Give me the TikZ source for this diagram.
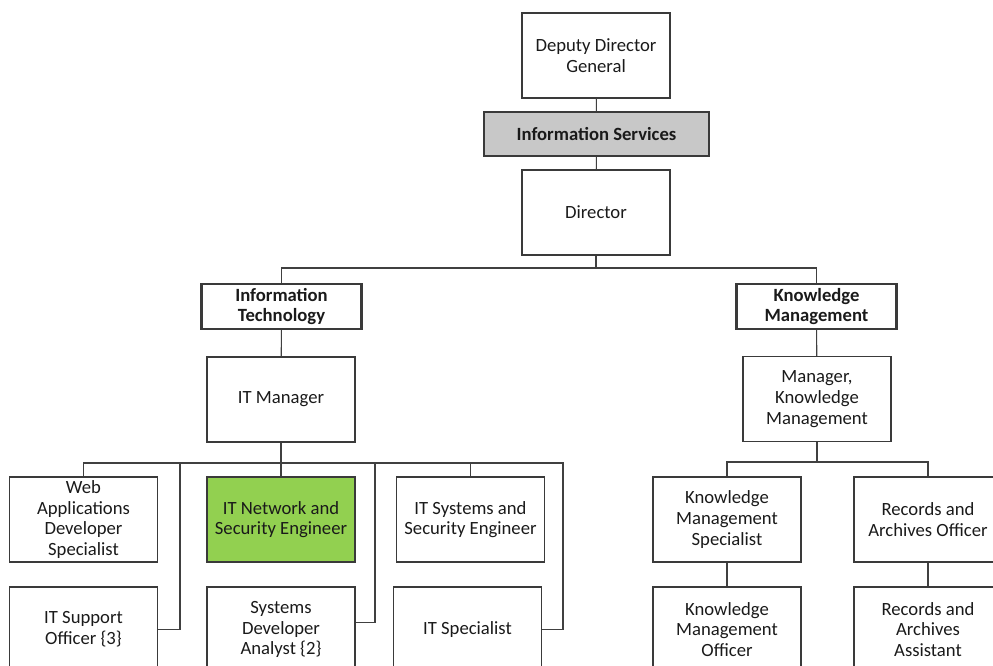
\documentclass[tikz,border=0pt]{standalone}
\usepackage{fontspec}
\setmainfont{Carlito}
\usetikzlibrary{positioning}
\definecolor{boxline}{HTML}{3A3A3A}
\definecolor{linegrey}{HTML}{404040}
\definecolor{textdark}{HTML}{1A1A1A}
\definecolor{unitgrey}{HTML}{C8C8C8}
\definecolor{keygreen}{HTML}{92D050}
\tikzset
{
    postbox/.style = {rectangle, draw=boxline, line width=0.8pt, align=center, minimum width=111pt, minimum height=63.75pt, inner sep=1pt, text=textdark, font=\fontsize{14}{15.5}\selectfont},
    keybox/.style  = {postbox, fill=keygreen},
    headbox/.style = {postbox, fill=unitgrey, minimum width=168.75pt, minimum height=33pt, font=\fontsize{14}{15.5}\selectfont\bfseries},
    unitbox/.style = {postbox, line width=1.6pt, minimum width=120pt, minimum height=33.75pt, font=\fontsize{14}{15.5}\selectfont\bfseries},
    link/.style    = {draw=linegrey, line width=0.8pt}
}

\begin{document}
\begin{tikzpicture}[x=0.75pt, y=-0.75pt]
\useasboundingbox (0,0) rectangle (993,666);

% top of the chart
\node[postbox] (ddg) at (596,55.5) {Deputy Director\\General};
\node[headbox] (infoserv) at (596.5,134) {Information Services};
\node[postbox] (dir) at (596,212.5) {Director};

% the two units
\node[unitbox] (it) at (281.5,306.5) {Information\\Technology};
\node[unitbox] (km) at (816.5,306.5) {Knowledge\\Management};
\node[postbox] (itm) at (281,399.5) {IT Manager};
\node[postbox] (kmm) at (817,399) {Manager,\\Knowledge\\Management};

% information technology staff
\node[postbox] (web) at (83.5,519.5) {Web\\Applications\\Developer\\Specialist};
\node[keybox] (itnet) at (281,519.5) {IT Network and\\Security Engineer};
\node[postbox] (itsys) at (470.5,519.5) {IT Systems and\\Security Engineer};
\node[postbox] (itsup) at (83.5,629.5) {IT Support\\Officer \{3\}};
\node[postbox] (sda) at (281,629.5) {Systems\\Developer\\Analyst \{2\}};
\node[postbox] (itspec) at (467.5,629.5) {IT Specialist};

% knowledge management staff
\node[postbox] (kms) at (727,519.5) {Knowledge\\Management\\Specialist};
\node[postbox] (rao) at (928,519.5) {Records and\\Archives Officer};
\node[postbox] (kmo) at (727,629.5) {Knowledge\\Management\\Officer};
\node[postbox] (raa) at (928,629.5) {Records and\\Archives\\Assistant};

% bus points
\coordinate (dirbus) at (596,268);
\coordinate (itbus) at (281,463);
\coordinate (itbusR) at (563,463);
\coordinate (tapA) at (180,463);
\coordinate (tapB) at (375,463);
\coordinate (kmbus) at (817,462);

% connectors
\draw[link] (ddg) -- (infoserv);
\draw[link] (infoserv) -- (dir);
\draw[link] (dir.south) -- (dirbus);
\draw[link] (it.north) |- (dirbus) -| (km.north);
\draw[link] (it) -- (itm);
\draw[link] (km) -- (kmm);

\draw[link] (itm) -- (itnet);
\draw[link] (web.north) |- (itbusR) |- (itspec.east);
\draw[link] (itsys.north) -- (itsys.north |- itbus);
\draw[link] (itsup.east) -| (tapA);
\draw[link] ([yshift=5pt]sda.east) -| (tapB);

\draw[link] (kmm.south) -- (kmbus);
\draw[link] (kms.north) |- (kmbus) -| (rao.north);
\draw[link] (kms) -- (kmo);
\draw[link] (rao) -- (raa);
\end{tikzpicture}
\end{document}
